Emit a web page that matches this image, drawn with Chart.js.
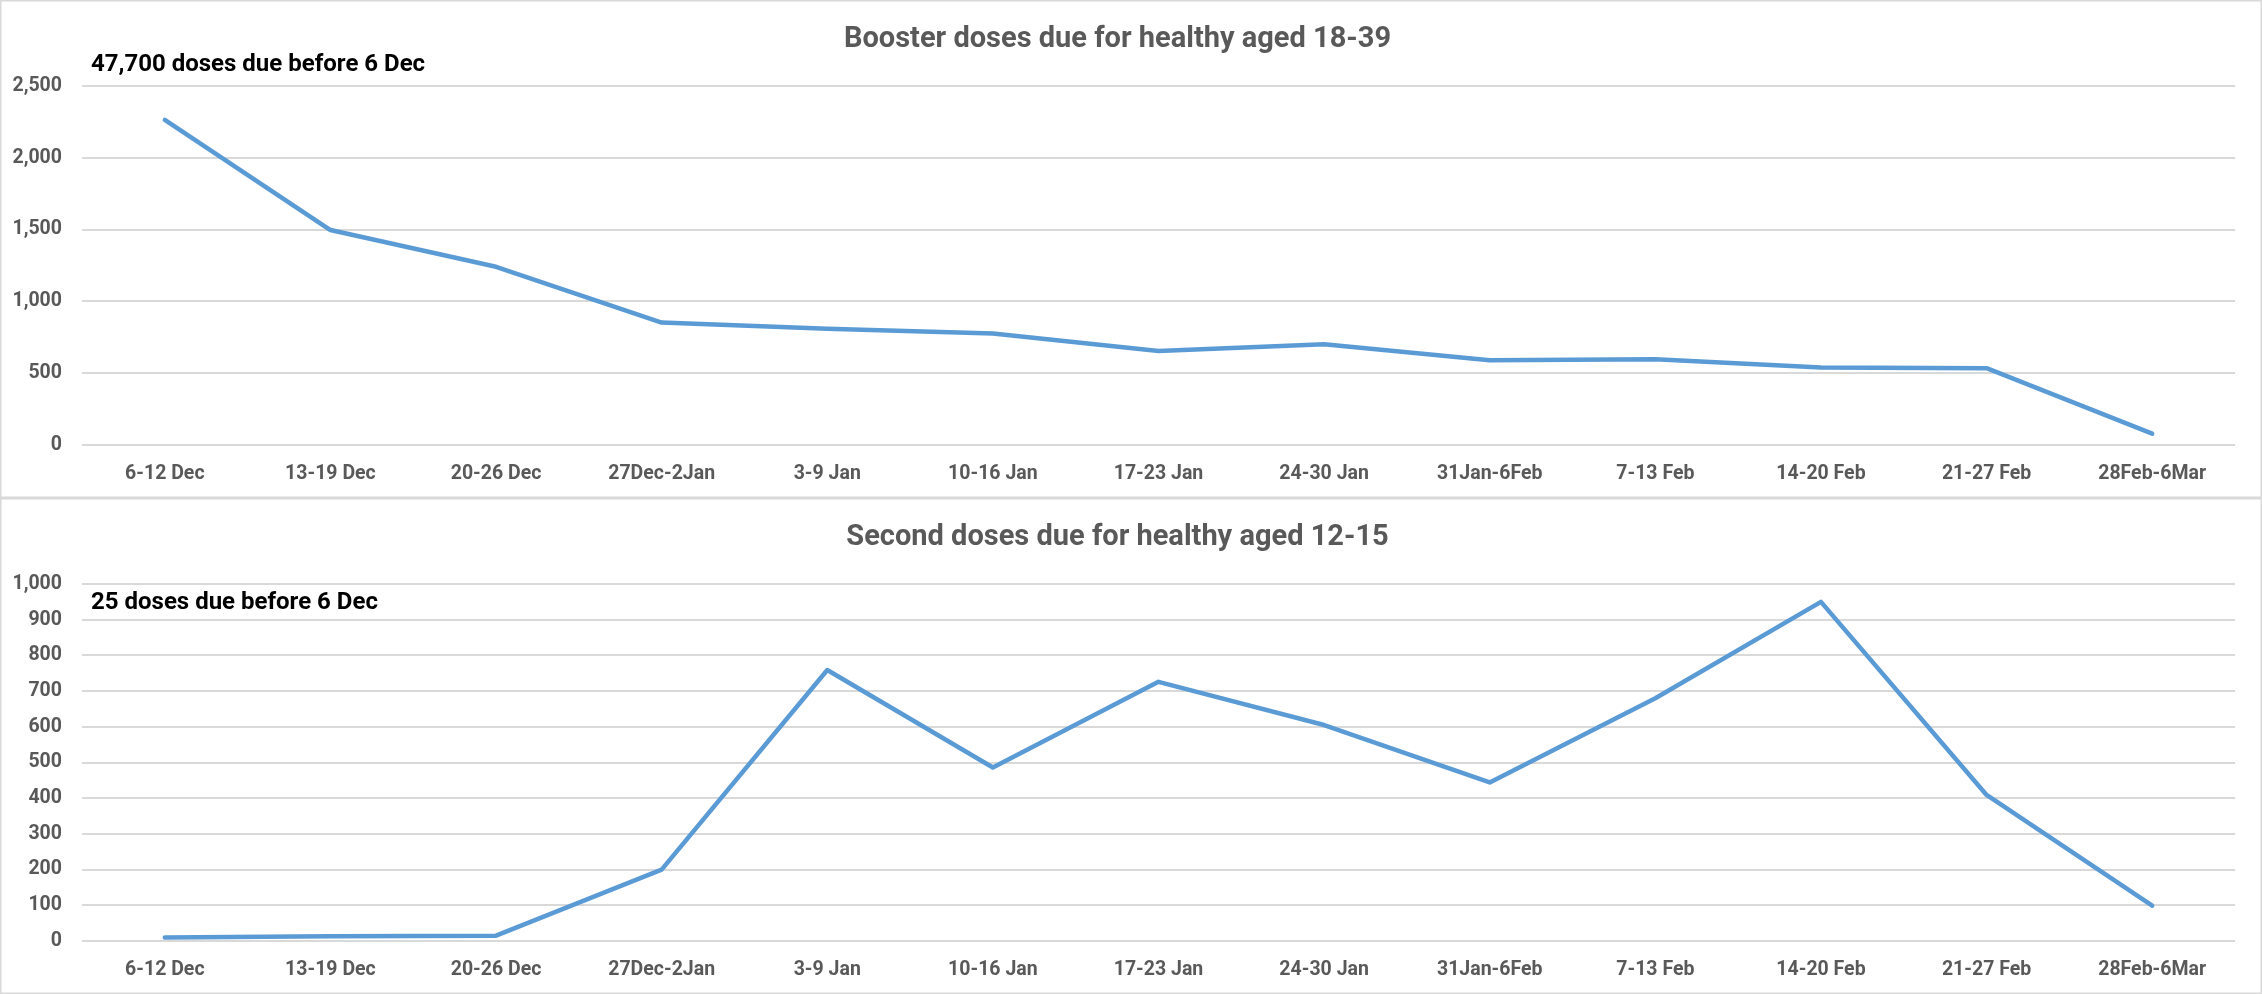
<!DOCTYPE html>
<html>
<head>
<meta charset="utf-8">
<script src="https://cdn.jsdelivr.net/npm/chart.js@4"></script>
<style>
  body { margin: 0; background: #fff; }
  .panel { position: absolute; left: 0; width: 2262px; background: #fff; box-shadow: inset 0 0 0 1.5px #d9d9d9; }
  #p1 { top: 0; height: 498px; }
  #p2 { top: 498px; height: 496px; }
  canvas { position: absolute; left: 0; top: 0; }
</style>
</head>
<body>
<div class="panel" id="p1"><canvas id="chart1" width="2262" height="498"></canvas></div>
<div class="panel" id="p2"><canvas id="chart2" width="2262" height="496"></canvas></div>
<script>
// weekly windows
const weeks = ['6-12 Dec', '13-19 Dec', '20-26 Dec', '27Dec-2Jan', '3-9 Jan', '10-16 Jan', '17-23 Jan',
  '24-30 Jan', '31Jan-6Feb', '7-13 Feb', '14-20 Feb', '21-27 Feb', '28Feb-6Mar'];

// booster doses, healthy 18-39
const booster = [2264, 1497, 1241, 853, 810, 776, 655, 702, 590, 597, 539, 535, 79];
// second doses, healthy 12-15
const second = [10, 13, 15, 200, 759, 486, 726, 605, 444, 680, 950, 409, 99];

const titles = ['Booster doses due for healthy aged 18-39', 'Second doses due for healthy aged 12-15'];
const notes = ['47,700 doses due before 6 Dec', '25 doses due before 6 Dec'];
const yMax = [2500, 1000];
const yStep = [500, 100];

const FONT = "'Liberation Sans Narrow', 'Arial Narrow', 'Roboto', sans-serif";
const GREY = '#595959';

// small plugin for the note text in the top-left corner
const notePlugin = {
  id: 'note',
  afterDraw(chart, args, opts) {
    const ctx = chart.ctx;
    const area = chart.chartArea;
    ctx.save();
    ctx.font = 'bold 24px ' + FONT;
    ctx.fillStyle = '#000';
    ctx.textBaseline = 'middle';
    ctx.textAlign = 'left';
    ctx.fillText(opts.text, area.left + 9, area.top + opts.dy);
    ctx.restore();
  }
};

function makeChart(id, values, i, dy) {
  const ctx = document.getElementById(id).getContext('2d');
  return new Chart(ctx, {
    type: 'line',
    data: {
      labels: weeks,
      datasets: [{
        label: titles[i],
        data: values,
        borderColor: '#5b9bd5',
        backgroundColor: '#5b9bd5',
        borderWidth: 4.5,
        pointRadius: 0,
        tension: 0,
        borderCapStyle: 'round',
        borderJoinStyle: 'round'
      }]
    },
    options: {
      responsive: false,
      animation: false,
      layout: { padding: { left: 0, right: 27, top: 0, bottom: 0 } },
      plugins: {
        legend: { display: false },
        tooltip: { enabled: false },
        title: {
          display: true,
          text: titles[i],
          color: GREY,
          font: { family: FONT, size: 29, weight: 'bold' },
          padding: { top: 22, bottom: 29.2 }
        },
        note: { text: notes[i], dy: dy }
      },
      scales: {
        x: {
          offset: true,
          grid: { display: false, drawTicks: false },
          border: { display: false },
          ticks: {
            color: GREY,
            padding: 17,
            maxRotation: 0,
            autoSkip: false,
            font: { family: FONT, size: 19.5, weight: 'bold' }
          },
          afterFit(scale) { scale.height = 53; }
        },
        y: {
          min: 0,
          max: yMax[i],
          grid: { color: '#d9d9d9', lineWidth: 2, drawTicks: false },
          border: { display: false },
          ticks: {
            stepSize: yStep[i],
            color: GREY,
            padding: 20,
            font: { family: FONT, size: 19.5, weight: 'bold' }
          },
          afterFit(scale) { scale.width = 82; }
        }
      }
    },
    plugins: [notePlugin]
  });
}

makeChart('chart1', booster, 0, -21);
makeChart('chart2', second, 1, 19);
</script>
</body>
</html>
